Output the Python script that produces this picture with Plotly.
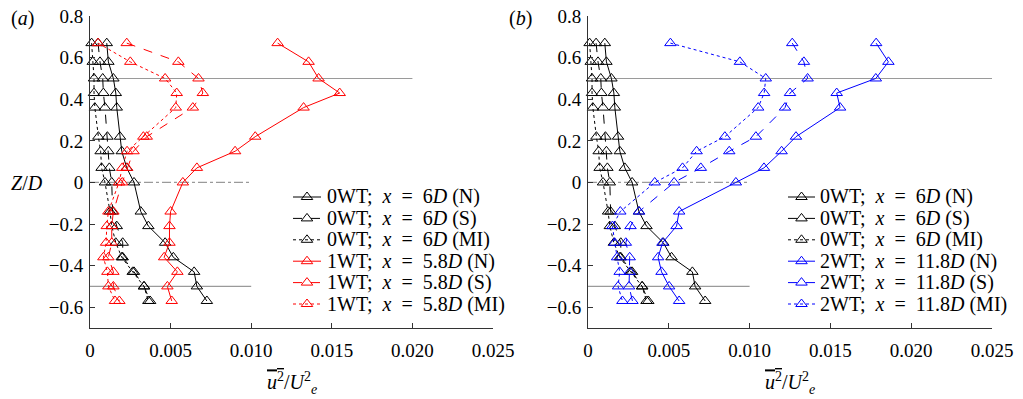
import plotly.graph_objects as go

# ---------------- data ----------------
Z = [0.67, 0.58, 0.50, 0.43, 0.36, 0.22, 0.15, 0.07, 0.0,
     -0.14, -0.21, -0.29, -0.36, -0.43, -0.50, -0.57]

wt0_N = [0.00104, 0.00114, 0.00145, 0.00160, 0.00166, 0.00186, 0.00197, 0.00228, 0.00273,
         0.00315, 0.00362, 0.00466, 0.00517, 0.00646, 0.00663, 0.00725]
wt0_S = [0.00050, 0.00062, 0.00079, 0.00083, 0.00093, 0.00108, 0.00114, 0.00120, 0.00135,
         0.00140, 0.00166, 0.00203, 0.00203, 0.00273, 0.00335, 0.00373]
wt0_MI = [0.00010, 0.00017, 0.00025, 0.00025, 0.00030, 0.00052, 0.00066, 0.00072, 0.00093,
          0.00124, 0.00135, 0.00160, 0.00197, 0.00265, 0.00335, 0.00362]

wt1_N = [0.01164, 0.01356, 0.01418, 0.01549, 0.01325, 0.01025, 0.00900, 0.00663, 0.00576,
         0.00500, 0.00493, 0.00493, 0.00460, 0.00542, 0.00480, 0.00507]
wt1_S = [0.00228, 0.00548, 0.00673, 0.00700, 0.00638, 0.00352, 0.00270, 0.00230, 0.00200,
         0.00145, 0.00135, 0.00135, 0.00114, 0.00145, 0.00145, 0.00182]
wt1_MI = [0.00050, 0.00250, 0.00466, 0.00538, 0.00532, 0.00331, 0.00230, 0.00200, 0.00180,
          0.00114, 0.00104, 0.00100, 0.00083, 0.00108, 0.00114, 0.00155]

wt2_N = [0.01783, 0.01859, 0.01781, 0.01539, 0.01560, 0.01287, 0.01198, 0.01089, 0.00915,
         0.00564, 0.00548, 0.00461, 0.00434, 0.00455, 0.00502, 0.00564]
wt2_S = [0.01264, 0.01336, 0.01359, 0.01250, 0.01219, 0.01039, 0.00874, 0.00698, 0.00533,
         0.00316, 0.00263, 0.00234, 0.00258, 0.00258, 0.00254, 0.00275]
wt2_MI = [0.00510, 0.00940, 0.01100, 0.01090, 0.01053, 0.00847, 0.00672, 0.00585, 0.00413,
          0.00200, 0.00151, 0.00165, 0.00180, 0.00196, 0.00186, 0.00213]

SP = "\u2002"
names_a = [f"0WT;{SP}<i>x</i>{SP}={SP}6<i>D</i> (N)", f"0WT;{SP}<i>x</i>{SP}={SP}6<i>D</i> (S)",
           f"0WT;{SP}<i>x</i>{SP}={SP}6<i>D</i> (MI)",
           f"1WT;{SP}<i>x</i>{SP}={SP}5.8<i>D</i> (N)", f"1WT;{SP}<i>x</i>{SP}={SP}5.8<i>D</i> (S)",
           f"1WT;{SP}<i>x</i>{SP}={SP}5.8<i>D</i> (MI)"]
names_b = [f"0WT;{SP}<i>x</i>{SP}={SP}6<i>D</i> (N)", f"0WT;{SP}<i>x</i>{SP}={SP}6<i>D</i> (S)",
           f"0WT;{SP}<i>x</i>{SP}={SP}6<i>D</i> (MI)",
           f"2WT;{SP}<i>x</i>{SP}={SP}11.8<i>D</i> (N)", f"2WT;{SP}<i>x</i>{SP}={SP}11.8<i>D</i> (S)",
           f"2WT;{SP}<i>x</i>{SP}={SP}11.8<i>D</i> (MI)"]

# reference lines
ref_z = [0.5, 0.0, -0.5]
ref_end_a = [0.020, 0.010, 0.010]
ref_end_b = [0.025, 0.010, 0.010]
ref_dash = ["solid", "dashdot", "solid"]

x_ticks = [0, 0.005, 0.010, 0.015, 0.020, 0.025]
x_ticktext = ["0", "0.005", "0.010", "0.015", "0.020", "0.025"]
y_ticks = [0.8, 0.6, 0.4, 0.2, 0, -0.2, -0.4, -0.6]
y_ticktext = ["0.8", "0.6", "0.4", "0.2", "0", "\u22120.2", "\u22120.4", "\u22120.6"]

# ---------------- layout constants (screen pixels) ----------------
OFF = 8                      # page body margin in the browser
SW, SH = 1023, 399           # screen size
W, H = SW - OFF, SH - OFF    # figure size
P_L, P_R, P_T, P_B = 90, 992, 16, 328
ML, MR, MT, MB = P_L - OFF, (W + OFF) - P_R, P_T - OFF, (H + OFF) - P_B
PW, PH = W - ML - MR, H - MT - MB
AX_A = (90, 493)
AX_B = (588, 992)

def px_x(px):
    return (px - P_L) / PW

def px_y(py):
    return (P_B - py) / PH

FONT = "Liberation Serif, Times New Roman, serif"
fig = go.Figure()
dashes = ["solid", "dash", "dot"]

def add_ref(xaxis, yaxis, ends):
    for z, e, d in zip(ref_z, ends, ref_dash):
        fig.add_trace(go.Scatter(x=[0, e], y=[z, z], mode="lines", xaxis=xaxis, yaxis=yaxis,
                                 line=dict(color="#9a9a9a", width=1.2, dash=d),
                                 showlegend=False, hoverinfo="skip", cliponaxis=False))

def add_series(xs, color, xaxis, yaxis):
    for x, d in zip(xs, dashes):
        fig.add_trace(go.Scatter(x=x, y=Z, mode="lines+markers", showlegend=False,
                                 xaxis=xaxis, yaxis=yaxis, cliponaxis=False,
                                 line=dict(color=color, width=1, dash=d),
                                 marker=dict(symbol="triangle-up-open", size=10,
                                             color=color, line=dict(width=1, color=color))))

add_ref("x", "y", ref_end_a)
add_ref("x2", "y2", ref_end_b)
add_series([wt0_N, wt0_S, wt0_MI], "black", "x", "y")
add_series([wt1_N, wt1_S, wt1_MI], "#ff0000", "x", "y")
add_series([wt0_N, wt0_S, wt0_MI], "black", "x2", "y2")
add_series([wt2_N, wt2_S, wt2_MI], "#0000ff", "x2", "y2")

# ---------------- manual legends (pixel overlay axis) ----------------
LEG_ROW0, LEG_DY = 197, 21.4
LEG_A = (293, 321, 325)
LEG_B = (788, 815, 818)
colors_a = ["black"] * 3 + ["#ff0000"] * 3
colors_b = ["black"] * 3 + ["#0000ff"] * 3

def add_legend(pos, names, colors):
    x0, x1, xt = pos
    for i, (n, c) in enumerate(zip(names, colors)):
        yy = LEG_ROW0 + i * LEG_DY
        fig.add_trace(go.Scatter(x=[x0, x1], y=[yy, yy], mode="lines", xaxis="x3", yaxis="y3",
                                 line=dict(color=c, width=1, dash=dashes[i % 3]),
                                 showlegend=False, hoverinfo="skip", cliponaxis=False))
        fig.add_trace(go.Scatter(x=[(x0 + x1) / 2], y=[yy], mode="markers", xaxis="x3", yaxis="y3",
                                 marker=dict(symbol="triangle-up-open", size=10, color=c,
                                             line=dict(width=1, color=c)),
                                 showlegend=False, hoverinfo="skip", cliponaxis=False))
        fig.add_annotation(xref="paper", yref="paper", x=px_x(xt), y=px_y(yy),
                           xanchor="left", yanchor="middle", showarrow=False, text=n,
                           font=dict(family=FONT, size=20, color="black"))

add_legend(LEG_A, names_a, colors_a)
add_legend(LEG_B, names_b, colors_b)

xaxis_common = dict(range=[0, 0.025], tickvals=x_ticks, ticktext=x_ticktext,
                    ticks="inside", ticklen=5, tickcolor="#333", showline=True,
                    linecolor="#333", linewidth=1, showgrid=False, zeroline=False,
                    automargin=False, ticklabelstandoff=5, ticklabeloverflow="allow",
                    tickfont=dict(family=FONT, size=19, color="black"))
yaxis_common = dict(range=[-0.7, 0.8005], tickvals=y_ticks, ticktext=y_ticktext,
                    ticks="inside", ticklen=5, tickcolor="#333", showline=True,
                    linecolor="#333", linewidth=1, showgrid=False, zeroline=False,
                    automargin=False, ticklabelstandoff=2, ticklabeloverflow="allow",
                    tickfont=dict(family=FONT, size=19, color="black"))

fig.update_layout(
    width=W, height=H,
    margin=dict(l=ML, r=MR, t=MT, b=MB, autoexpand=False),
    paper_bgcolor="white", plot_bgcolor="rgba(0,0,0,0)",
    xaxis=dict(domain=[px_x(AX_A[0]), px_x(AX_A[1])], anchor="y", **xaxis_common),
    yaxis=dict(domain=[0, 1], anchor="x", **yaxis_common),
    xaxis2=dict(domain=[px_x(AX_B[0]), px_x(AX_B[1])], anchor="y2", **xaxis_common),
    yaxis2=dict(domain=[0, 1], anchor="x2", **yaxis_common),
    xaxis3=dict(domain=[0, 1], range=[P_L, P_R], visible=False, anchor="y3"),
    yaxis3=dict(domain=[0, 1], range=[P_B, P_T], visible=False, anchor="x3"),
    showlegend=False,
)

xt = ('<span style="text-decoration:overline"><i>u</i><sup>2</sup></span>'
      '/<i>U</i><sup>2</sup><sub><i>e</i></sub>')
ann = [
    dict(text="(<i>a</i>)", x=px_x(22), y=px_y(19)),
    dict(text="(<i>b</i>)", x=px_x(520), y=px_y(19)),
    dict(text="<i>Z</i>/<i>D</i>", x=px_x(27), y=px_y(183)),
    dict(text=xt, x=px_x(292), y=px_y(383)),
    dict(text=xt, x=px_x(790), y=px_y(383)),
]
for a in ann:
    fig.add_annotation(xref="paper", yref="paper", showarrow=False,
                       xanchor="center", yanchor="middle",
                       font=dict(family=FONT, size=20, color="black"), **a)

fig.write_html("out.html")
